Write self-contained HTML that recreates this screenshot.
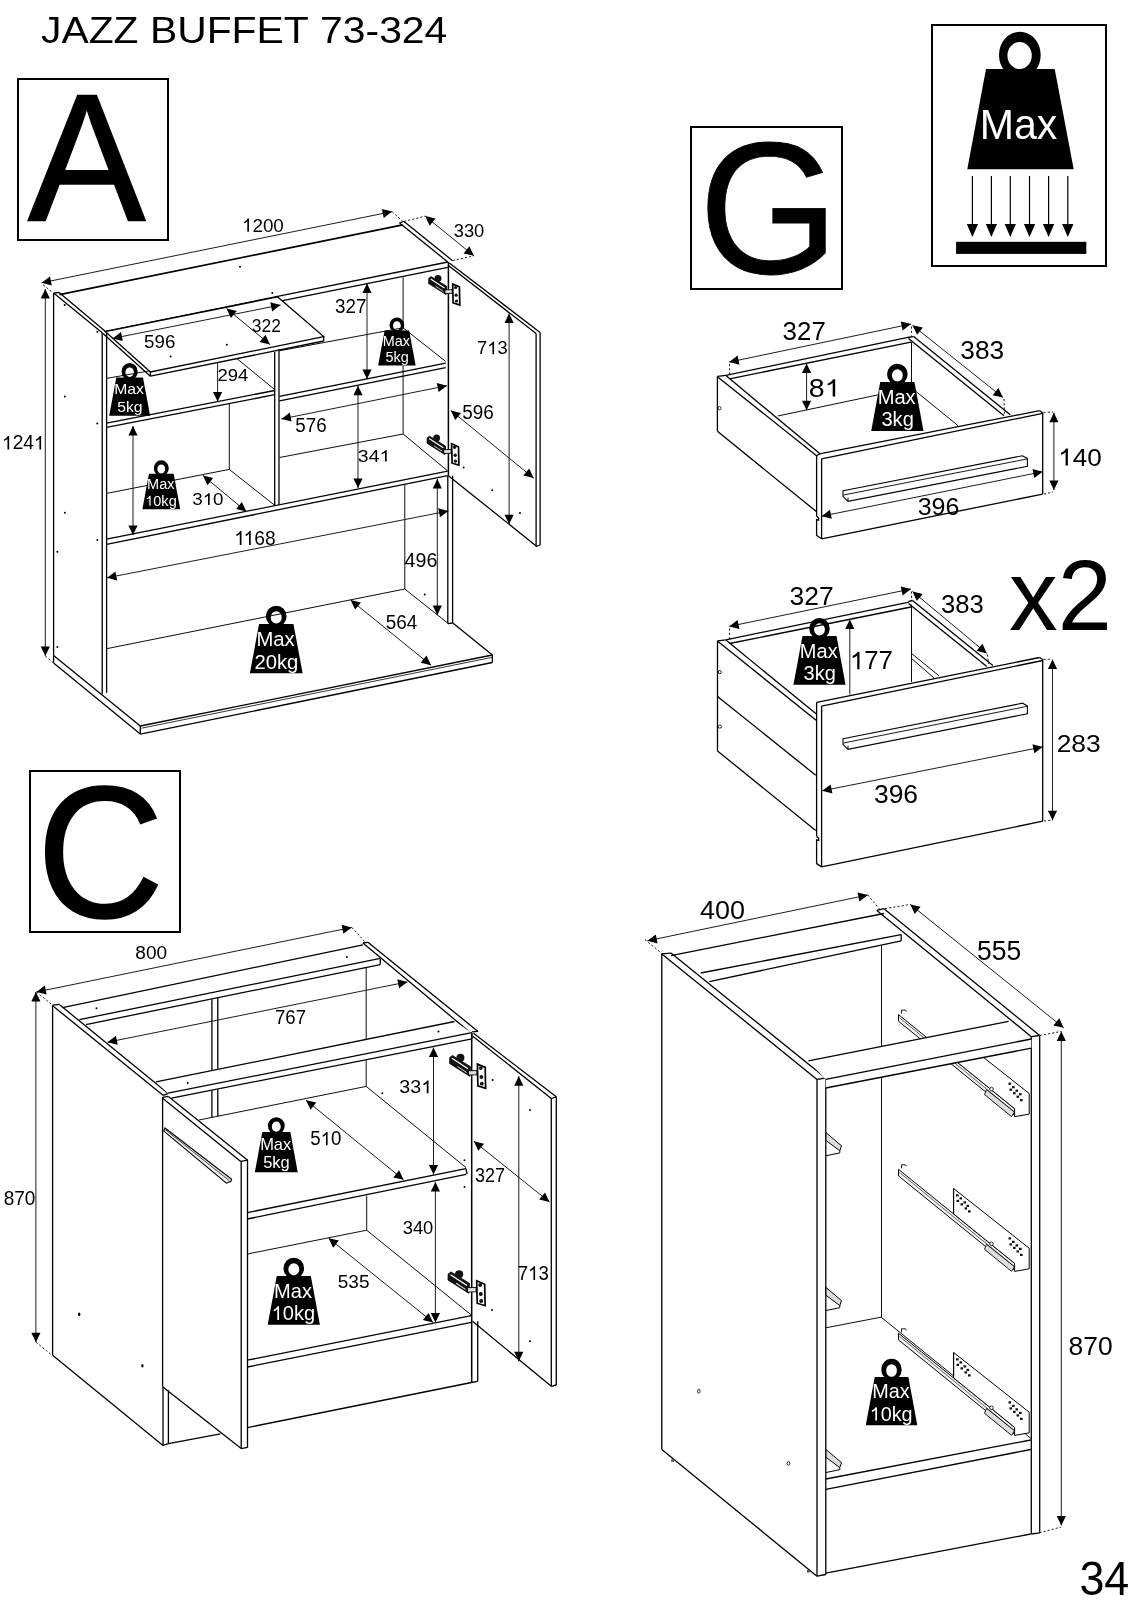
<!DOCTYPE html>
<html><head><meta charset="utf-8"><style>
html,body{margin:0;padding:0;background:#fff;}
svg{display:block;will-change:transform;}
text{font-family:"Liberation Sans",sans-serif;font-kerning:none;}
</style></head><body>
<svg width="1131" height="1600" viewBox="0 0 1131 1600">
<rect width="1131" height="1600" fill="#fff"/>
<text transform="translate(40.96,43.00) scale(1.0890,1)" font-size="37.52" fill="#000">JAZZ BUFFET 73-324</text>
<rect x="18" y="79" width="150" height="161" fill="none" stroke="#000" stroke-width="2"/>
<rect x="691" y="127" width="151" height="162" fill="none" stroke="#000" stroke-width="2"/>
<rect x="30" y="771" width="150" height="161" fill="none" stroke="#000" stroke-width="2"/>
<rect x="932" y="25" width="174" height="241" fill="none" stroke="#000" stroke-width="2"/>
<text transform="translate(27.70,221.35) scale(0.9666,1)" font-size="182.85" fill="#000" stroke="#000" stroke-width="1.5" stroke-linejoin="miter">A</text>
<text transform="translate(698.85,273.20) scale(0.9623,1)" font-size="187.04" fill="#000" stroke="#000" stroke-width="0.8" stroke-linejoin="miter">G</text>
<text transform="translate(36.65,916.80) scale(0.9443,1)" font-size="186.61" fill="#000" stroke="#000" stroke-width="1.6" stroke-linejoin="miter">C</text>
<text transform="translate(1009.01,629.60) scale(0.9736,1)" font-size="99.97" fill="#000">x2</text>
<text transform="translate(1079.39,1595.00) scale(0.9383,1)" font-size="47.83" fill="#000">34</text>
<path d="M986,69.1 L1054.7,69.1 L1073.7,169.2 L967.3,169.2 Z" fill="#000"/>
<path d="M999.0,55 a20.85,23.2 0 1,0 41.7,0 a20.85,23.2 0 1,0 -41.7,0 Z M1007.4,55.5 a12.2,13.6 0 1,0 24.4,0 a12.2,13.6 0 1,0 -24.4,0 Z" fill="#000" fill-rule="evenodd"/>
<text transform="translate(979.63,138.50) scale(0.9627,1)" font-size="42.73" fill="#fff">Max</text>
<line x1="972.4" y1="175.9" x2="972.4" y2="226.0" stroke="#000" stroke-width="1.2" />
<polygon points="972.4,237.1 966.8,224.1 978.0,224.1" fill="#000"/>
<line x1="991.4" y1="175.9" x2="991.4" y2="226.0" stroke="#000" stroke-width="1.2" />
<polygon points="991.4,237.1 985.8,224.1 997.0,224.1" fill="#000"/>
<line x1="1010.3" y1="175.9" x2="1010.3" y2="226.0" stroke="#000" stroke-width="1.2" />
<polygon points="1010.3,237.1 1004.6,224.1 1015.9,224.1" fill="#000"/>
<line x1="1029.5" y1="175.9" x2="1029.5" y2="226.0" stroke="#000" stroke-width="1.2" />
<polygon points="1029.5,237.1 1023.9,224.1 1035.2,224.1" fill="#000"/>
<line x1="1048.6" y1="175.9" x2="1048.6" y2="226.0" stroke="#000" stroke-width="1.2" />
<polygon points="1048.6,237.1 1042.9,224.1 1054.2,224.1" fill="#000"/>
<line x1="1067.8" y1="175.9" x2="1067.8" y2="226.0" stroke="#000" stroke-width="1.2" />
<polygon points="1067.8,237.1 1062.1,224.1 1073.5,224.1" fill="#000"/>
<rect x="956.1" y="241.8" width="130.2" height="12.1" fill="#000"/>
<line x1="41.6" y1="282.8" x2="392.1" y2="211.6" stroke="#111" stroke-width="0.95" />
<polygon points="392.1,211.6 383.7,218.0 381.9,209.0" fill="#000"/>
<polygon points="41.6,282.8 50.0,276.4 51.8,285.4" fill="#000"/>
<g transform="translate(241.95,231.70) scale(0.9885,1)" fill="#000"><path transform="translate(0.00,0) scale(0.00930,-0.00930)" d="M763,0 L583,0 L583,1100 Q520,1040 420,985 Q320,930 223,900 L223,1070 Q360,1130 460,1215 Q560,1300 620,1409 L763,1409 Z"/><text x="10.59" font-size="19.05">200</text></g>
<line x1="43.2" y1="284.8" x2="52.3" y2="292.3" stroke="#222" stroke-width="1.0" stroke-dasharray="2.2,2"/>
<line x1="392.1" y1="211.6" x2="402.7" y2="221.4" stroke="#222" stroke-width="1.0" stroke-dasharray="2.2,2"/>
<line x1="425.2" y1="216.1" x2="473.9" y2="255.8" stroke="#111" stroke-width="0.95" />
<polygon points="473.9,255.8 463.6,253.4 469.4,246.2" fill="#000"/>
<polygon points="425.2,216.1 435.5,218.5 429.7,225.7" fill="#000"/>
<line x1="404.0" y1="221.4" x2="425.2" y2="216.1" stroke="#222" stroke-width="1.0" stroke-dasharray="2.2,2"/>
<line x1="452.6" y1="260.7" x2="473.9" y2="255.8" stroke="#222" stroke-width="1.0" stroke-dasharray="2.2,2"/>
<text transform="translate(453.70,237.30) scale(0.9633,1)" font-size="19.05" fill="#000">330</text>
<line x1="45.3" y1="289.1" x2="45.3" y2="656.1" stroke="#111" stroke-width="0.95" />
<polygon points="45.3,656.1 40.7,646.6 49.9,646.6" fill="#000"/>
<polygon points="45.3,289.1 49.9,298.6 40.7,298.6" fill="#000"/>
<g transform="translate(2.01,449.40) scale(0.9905,1)" fill="#000"><path transform="translate(0.00,0) scale(0.00944,-0.00944)" d="M763,0 L583,0 L583,1100 Q520,1040 420,985 Q320,930 223,900 L223,1070 Q360,1130 460,1215 Q560,1300 620,1409 L763,1409 Z"/><text x="10.75" font-size="19.33">24</text><path transform="translate(32.26,0) scale(0.00944,-0.00944)" d="M763,0 L583,0 L583,1100 Q520,1040 420,985 Q320,930 223,900 L223,1070 Q360,1130 460,1215 Q560,1300 620,1409 L763,1409 Z"/></g>
<line x1="45.3" y1="656.1" x2="53.6" y2="662.9" stroke="#222" stroke-width="1.0" stroke-dasharray="2.2,2"/>
<line x1="53.6" y1="293.1" x2="53.6" y2="655.5" stroke="#000" stroke-width="1.3" />
<line x1="53.6" y1="293.1" x2="102.5" y2="332.9" stroke="#000" stroke-width="1.3" />
<line x1="59.1" y1="292.6" x2="105.2" y2="331.3" stroke="#000" stroke-width="1.3" />
<line x1="53.6" y1="293.1" x2="59.1" y2="292.5" stroke="#000" stroke-width="1.3" />
<line x1="102.2" y1="333.0" x2="102.2" y2="694.2" stroke="#000" stroke-width="1.3" />
<line x1="106.6" y1="331.3" x2="106.6" y2="692.8" stroke="#000" stroke-width="1.3" />
<line x1="53.6" y1="655.5" x2="140.3" y2="726.0" stroke="#000" stroke-width="1.3" />
<line x1="53.6" y1="662.9" x2="140.3" y2="734.1" stroke="#000" stroke-width="1.3" />
<line x1="53.6" y1="655.5" x2="53.6" y2="662.9" stroke="#000" stroke-width="1.3" />
<line x1="140.3" y1="726.0" x2="140.3" y2="734.1" stroke="#000" stroke-width="1.3" />
<line x1="140.3" y1="726.0" x2="492.4" y2="655.0" stroke="#000" stroke-width="1.3" />
<line x1="141.5" y1="728.2" x2="492.4" y2="657.3" stroke="#000" stroke-width="0.8" />
<line x1="140.3" y1="734.1" x2="492.4" y2="662.5" stroke="#000" stroke-width="1.3" />
<line x1="492.4" y1="655.0" x2="492.4" y2="662.5" stroke="#000" stroke-width="1.3" />
<line x1="492.4" y1="655.0" x2="452.8" y2="623.0" stroke="#000" stroke-width="1.3" />
<line x1="59.5" y1="294.7" x2="402.7" y2="224.9" stroke="#000" stroke-width="1.7" />
<line x1="105.2" y1="331.3" x2="447.8" y2="262.0" stroke="#000" stroke-width="1.3" />
<line x1="277.7" y1="301.7" x2="447.8" y2="267.3" stroke="#000" stroke-width="1.3" />
<line x1="404.0" y1="221.4" x2="452.6" y2="260.7" stroke="#000" stroke-width="1.3" />
<line x1="399.6" y1="223.1" x2="447.8" y2="262.0" stroke="#000" stroke-width="1.3" />
<line x1="399.6" y1="222.8" x2="404.0" y2="221.4" stroke="#000" stroke-width="1.3" />
<line x1="452.6" y1="475.7" x2="452.6" y2="623.0" stroke="#000" stroke-width="1.3" />
<line x1="447.8" y1="475.7" x2="447.8" y2="623.6" stroke="#000" stroke-width="1.3" />
<line x1="447.8" y1="623.6" x2="452.6" y2="623.0" stroke="#000" stroke-width="1.3" />
<line x1="403.1" y1="276.5" x2="403.1" y2="328.0" stroke="#000" stroke-width="0.95" />
<line x1="403.1" y1="366.0" x2="403.1" y2="434.0" stroke="#000" stroke-width="0.95" />
<line x1="404.8" y1="485.0" x2="404.8" y2="589.0" stroke="#000" stroke-width="0.95" />
<line x1="279.5" y1="350.8" x2="403.0" y2="327.8" stroke="#000" stroke-width="0.95" />
<line x1="403.0" y1="327.8" x2="445.7" y2="361.4" stroke="#000" stroke-width="0.95" />
<line x1="279.5" y1="396.4" x2="445.7" y2="363.2" stroke="#000" stroke-width="1.3" />
<line x1="279.5" y1="400.8" x2="445.7" y2="367.6" stroke="#000" stroke-width="1.3" />
<line x1="279.5" y1="457.5" x2="403.1" y2="434.0" stroke="#000" stroke-width="0.95" />
<line x1="403.1" y1="434.0" x2="447.6" y2="470.9" stroke="#000" stroke-width="0.95" />
<line x1="106.6" y1="539.2" x2="447.6" y2="471.2" stroke="#000" stroke-width="1.3" />
<line x1="106.6" y1="544.3" x2="447.6" y2="475.7" stroke="#000" stroke-width="1.3" />
<line x1="274.7" y1="352.0" x2="274.7" y2="506.0" stroke="#000" stroke-width="1.3" />
<line x1="279.0" y1="349.5" x2="279.0" y2="505.0" stroke="#000" stroke-width="1.3" />
<line x1="106.6" y1="423.2" x2="274.7" y2="390.5" stroke="#000" stroke-width="1.3" />
<line x1="106.6" y1="427.4" x2="274.7" y2="394.7" stroke="#000" stroke-width="1.3" />
<line x1="236.9" y1="358.6" x2="274.7" y2="389.6" stroke="#000" stroke-width="0.95" />
<line x1="106.6" y1="378.4" x2="150.4" y2="370.7" stroke="#000" stroke-width="0.95" />
<line x1="229.3" y1="403.5" x2="229.3" y2="469.4" stroke="#000" stroke-width="0.95" />
<line x1="106.6" y1="493.4" x2="229.3" y2="469.4" stroke="#000" stroke-width="0.95" />
<line x1="229.3" y1="469.4" x2="274.7" y2="505.3" stroke="#000" stroke-width="0.95" />
<line x1="106.6" y1="648.7" x2="404.8" y2="589.0" stroke="#000" stroke-width="0.95" />
<line x1="404.8" y1="589.0" x2="448.4" y2="623.6" stroke="#000" stroke-width="0.95" />
<polygon points="105.2,331.6 150.4,372.0 323.7,336.6 277.7,296.9" fill="#fff" stroke="#000" stroke-width="1.3" stroke-linejoin="miter" />
<line x1="103.0" y1="333.5" x2="150.4" y2="376.2" stroke="#000" stroke-width="1.3" />
<line x1="150.4" y1="372.0" x2="150.4" y2="376.2" stroke="#000" stroke-width="1.3" />
<line x1="150.4" y1="376.2" x2="323.7" y2="341.0" stroke="#000" stroke-width="1.3" />
<line x1="323.7" y1="336.6" x2="323.7" y2="341.0" stroke="#000" stroke-width="1.3" />
<line x1="448.4" y1="262.0" x2="448.4" y2="475.7" stroke="#000" stroke-width="1.5" />
<line x1="449.3" y1="262.9" x2="540.1" y2="332.4" stroke="#000" stroke-width="1.3" />
<line x1="448.7" y1="265.7" x2="536.1" y2="333.6" stroke="#000" stroke-width="1.3" />
<line x1="536.1" y1="333.6" x2="536.1" y2="546.5" stroke="#000" stroke-width="1.3" />
<line x1="540.1" y1="332.4" x2="540.1" y2="545.0" stroke="#000" stroke-width="1.3" />
<line x1="448.4" y1="475.7" x2="536.8" y2="546.5" stroke="#000" stroke-width="1.3" />
<line x1="536.1" y1="546.5" x2="540.1" y2="545.0" stroke="#000" stroke-width="1.3" />
<line x1="112.6" y1="338.4" x2="280.5" y2="305.0" stroke="#111" stroke-width="0.95" />
<polygon points="280.5,305.0 272.1,311.4 270.3,302.3" fill="#000"/>
<polygon points="112.6,338.4 121.0,332.0 122.8,341.1" fill="#000"/>
<text transform="translate(144.05,348.00) scale(1.0641,1)" font-size="17.62" fill="#000">596</text>
<line x1="226.5" y1="308.5" x2="269.9" y2="344.4" stroke="#111" stroke-width="0.95" />
<polygon points="269.9,344.4 259.6,341.9 265.5,334.8" fill="#000"/>
<polygon points="226.5,308.5 236.8,311.0 230.9,318.1" fill="#000"/>
<text transform="translate(251.84,332.00) scale(0.9800,1)" font-size="17.76" fill="#000">322</text>
<line x1="217.6" y1="362.8" x2="217.6" y2="401.4" stroke="#111" stroke-width="0.95" />
<polygon points="217.6,401.4 213.0,391.9 222.2,391.9" fill="#000"/>
<text transform="translate(217.47,381.20) scale(1.1043,1)" font-size="16.76" fill="#000">294</text>
<line x1="367.0" y1="283.6" x2="367.0" y2="379.1" stroke="#111" stroke-width="0.95" />
<polygon points="367.0,379.1 362.4,369.6 371.6,369.6" fill="#000"/>
<polygon points="367.0,283.6 371.6,293.1 362.4,293.1" fill="#000"/>
<text transform="translate(334.98,312.70) scale(0.9580,1)" font-size="19.62" fill="#000">327</text>
<line x1="358.0" y1="385.7" x2="358.0" y2="488.0" stroke="#111" stroke-width="0.95" />
<polygon points="358.0,488.0 353.4,478.5 362.6,478.5" fill="#000"/>
<polygon points="358.0,385.7 362.6,395.2 353.4,395.2" fill="#000"/>
<g transform="translate(357.86,461.60) scale(1.1691,1)" fill="#000"><text x="0.00" font-size="16.61">34</text><path transform="translate(18.48,0) scale(0.00811,-0.00811)" d="M763,0 L583,0 L583,1100 Q520,1040 420,985 Q320,930 223,900 L223,1070 Q360,1130 460,1215 Q560,1300 620,1409 L763,1409 Z"/></g>
<line x1="281.4" y1="419.0" x2="447.0" y2="385.7" stroke="#111" stroke-width="0.95" />
<polygon points="447.0,385.7 438.6,392.1 436.8,383.1" fill="#000"/>
<polygon points="281.4,419.0 289.8,412.6 291.6,421.6" fill="#000"/>
<text transform="translate(295.25,431.50) scale(0.9728,1)" font-size="19.33" fill="#000">576</text>
<line x1="509.1" y1="313.4" x2="509.1" y2="524.2" stroke="#111" stroke-width="0.95" />
<polygon points="509.1,524.2 504.5,514.7 513.7,514.7" fill="#000"/>
<polygon points="509.1,313.4 513.7,322.9 504.5,322.9" fill="#000"/>
<g transform="translate(477.06,354.30) scale(1.0065,1)" fill="#000"><text x="0.00" font-size="18.19">7</text><path transform="translate(10.12,0) scale(0.00888,-0.00888)" d="M763,0 L583,0 L583,1100 Q520,1040 420,985 Q320,930 223,900 L223,1070 Q360,1130 460,1215 Q560,1300 620,1409 L763,1409 Z"/><text x="20.23" font-size="18.19">3</text></g>
<line x1="450.8" y1="410.4" x2="533.6" y2="478.1" stroke="#111" stroke-width="0.95" />
<polygon points="533.6,478.1 523.3,475.6 529.2,468.5" fill="#000"/>
<polygon points="450.8,410.4 461.1,412.9 455.2,420.0" fill="#000"/>
<text transform="translate(462.24,419.00) scale(0.9793,1)" font-size="19.33" fill="#000">596</text>
<line x1="133.0" y1="426.0" x2="133.0" y2="535.0" stroke="#111" stroke-width="0.95" />
<polygon points="133.0,535.0 128.4,525.5 137.6,525.5" fill="#000"/>
<polygon points="133.0,426.0 137.6,435.5 128.4,435.5" fill="#000"/>
<line x1="203.0" y1="475.6" x2="246.3" y2="511.5" stroke="#111" stroke-width="0.95" />
<polygon points="246.3,511.5 236.1,509.0 241.9,501.9" fill="#000"/>
<polygon points="203.0,475.6 213.2,478.1 207.4,485.2" fill="#000"/>
<g transform="translate(192.29,505.00) scale(1.0896,1)" fill="#000"><text x="0.00" font-size="17.19">3</text><path transform="translate(9.56,0) scale(0.00839,-0.00839)" d="M763,0 L583,0 L583,1100 Q520,1040 420,985 Q320,930 223,900 L223,1070 Q360,1130 460,1215 Q560,1300 620,1409 L763,1409 Z"/><text x="19.12" font-size="17.19">0</text></g>
<line x1="107.0" y1="577.8" x2="448.4" y2="511.0" stroke="#111" stroke-width="0.95" />
<polygon points="448.4,511.0 440.0,517.3 438.2,508.3" fill="#000"/>
<polygon points="107.0,577.8 115.4,571.5 117.2,580.5" fill="#000"/>
<g transform="translate(234.31,545.00) scale(0.9450,1)" fill="#000"><path transform="translate(0.00,0) scale(0.00993,-0.00993)" d="M763,0 L583,0 L583,1100 Q520,1040 420,985 Q320,930 223,900 L223,1070 Q360,1130 460,1215 Q560,1300 620,1409 L763,1409 Z"/><path transform="translate(9.80,0) scale(0.00993,-0.00993)" d="M763,0 L583,0 L583,1100 Q520,1040 420,985 Q320,930 223,900 L223,1070 Q360,1130 460,1215 Q560,1300 620,1409 L763,1409 Z"/><text x="21.11" font-size="20.34">68</text></g>
<line x1="437.3" y1="478.9" x2="437.3" y2="615.0" stroke="#111" stroke-width="0.95" />
<polygon points="437.3,615.0 432.7,605.5 441.9,605.5" fill="#000"/>
<polygon points="437.3,478.9 441.9,488.4 432.7,488.4" fill="#000"/>
<text transform="translate(404.55,566.70) scale(1.0024,1)" font-size="19.62" fill="#000">496</text>
<line x1="350.6" y1="600.0" x2="431.0" y2="665.2" stroke="#111" stroke-width="0.95" />
<polygon points="431.0,665.2 420.7,662.8 426.5,655.6" fill="#000"/>
<polygon points="350.6,600.0 360.9,602.4 355.1,609.6" fill="#000"/>
<text transform="translate(385.74,628.50) scale(0.9768,1)" font-size="19.33" fill="#000">564</text>
<path d="M116.30,377.40 L143.00,377.40 L150.10,415.64 L109.20,415.64 Z" fill="#000"/>
<path d="M121.59,371.39 a8.06,8.22 0 1,0 16.11,0 a8.06,8.22 0 1,0 -16.11,0 Z M125.40,372.21 a4.25,4.81 0 1,0 8.51,0 a4.25,4.81 0 1,0 -8.51,0 Z" fill="#000" fill-rule="evenodd"/>
<text transform="translate(114.23,394.37) scale(1.0200,1)" font-size="15.42" fill="#fff">Max</text>
<text transform="translate(117.16,411.88) scale(1.0200,1)" font-size="15.42" fill="#fff">5kg</text>
<path d="M384.66,330.50 L409.14,330.50 L415.65,365.56 L378.15,365.56 Z" fill="#000"/>
<path d="M389.51,324.99 a7.39,7.54 0 1,0 14.78,0 a7.39,7.54 0 1,0 -14.78,0 Z M393.00,325.74 a3.90,4.41 0 1,0 7.80,0 a3.90,4.41 0 1,0 -7.80,0 Z" fill="#000" fill-rule="evenodd"/>
<text transform="translate(382.76,346.06) scale(1.0200,1)" font-size="14.14" fill="#fff">Max</text>
<text transform="translate(385.45,362.11) scale(1.0200,1)" font-size="14.14" fill="#fff">5kg</text>
<path d="M148.96,473.80 L173.64,473.80 L180.20,509.14 L142.40,509.14 Z" fill="#000"/>
<path d="M153.85,468.24 a7.45,7.60 0 1,0 14.89,0 a7.45,7.60 0 1,0 -14.89,0 Z M157.37,469.00 a3.93,4.44 0 1,0 7.86,0 a3.93,4.44 0 1,0 -7.86,0 Z" fill="#000" fill-rule="evenodd"/>
<text transform="translate(147.05,489.49) scale(1.0200,1)" font-size="14.25" fill="#fff">Max</text>
<g transform="translate(145.22,505.67) scale(1.0200,1)" fill="#fff"><path transform="translate(0.00,0) scale(0.00696,-0.00696)" d="M763,0 L583,0 L583,1100 Q520,1040 420,985 Q320,930 223,900 L223,1070 Q360,1130 460,1215 Q560,1300 620,1409 L763,1409 Z"/><text x="7.93" font-size="14.25">0kg</text></g>
<path d="M259.04,624.10 L293.46,624.10 L302.60,673.37 L249.90,673.37 Z" fill="#000"/>
<path d="M265.87,616.35 a10.38,10.59 0 1,0 20.76,0 a10.38,10.59 0 1,0 -20.76,0 Z M270.77,617.41 a5.48,6.19 0 1,0 10.96,0 a5.48,6.19 0 1,0 -10.96,0 Z" fill="#000" fill-rule="evenodd"/>
<text transform="translate(256.39,645.97) scale(1.0200,1)" font-size="19.87" fill="#fff">Max</text>
<text transform="translate(254.42,668.53) scale(1.0200,1)" font-size="19.87" fill="#fff">20kg</text>
<polygon points="428.8,278.3 431.1,276.6 446.7,286.3 446.1,294.6 428.6,283.5" fill="#111" stroke="#000" stroke-width="0.8" stroke-linejoin="miter" />
<ellipse cx="438.0" cy="278.5" rx="3.5" ry="3.4" fill="#111"/>
<line x1="430.7" y1="279.0" x2="444.5" y2="288.0" stroke="#fff" stroke-width="1.126183844011141" />
<line x1="435.5" y1="286.1" x2="443.3" y2="291.3" stroke="#ddd" stroke-width="0.8662952646239546" />
<polygon points="444.9,289.9 452.2,289.6 452.2,293.3 444.9,293.6" fill="#ddd" stroke="#000" stroke-width="0.9" stroke-linejoin="miter" />
<polygon points="452.7,284.0 459.4,286.9 459.8,305.0 453.1,302.9" fill="#fff" stroke="#000" stroke-width="1.7" stroke-linejoin="miter" />
<circle cx="455.6" cy="287.5" r="1.6" fill="#111"/>
<circle cx="456.1" cy="295.2" r="1.6" fill="#111"/>
<circle cx="456.5" cy="301.0" r="1.6" fill="#111"/>
<polygon points="427.2,437.9 429.6,436.2 445.5,446.1 444.9,454.6 427.0,443.2" fill="#111" stroke="#000" stroke-width="0.8" stroke-linejoin="miter" />
<ellipse cx="436.6" cy="438.1" rx="3.5" ry="3.5" fill="#111"/>
<line x1="429.1" y1="438.6" x2="443.3" y2="447.8" stroke="#fff" stroke-width="1.1515320334261845" />
<line x1="434.1" y1="445.9" x2="442.1" y2="451.2" stroke="#ddd" stroke-width="0.8857938718662957" />
<polygon points="443.7,449.7 451.2,449.4 451.2,453.3 443.7,453.5" fill="#ddd" stroke="#000" stroke-width="0.9" stroke-linejoin="miter" />
<polygon points="451.6,443.8 458.5,446.7 458.9,465.2 452.1,463.1" fill="#fff" stroke="#000" stroke-width="1.7" stroke-linejoin="miter" />
<circle cx="454.6" cy="447.3" r="1.7" fill="#111"/>
<circle cx="455.2" cy="455.2" r="1.7" fill="#111"/>
<circle cx="455.5" cy="461.1" r="1.7" fill="#111"/>
<circle cx="64.7" cy="305.0" r="1.0" fill="#000"/>
<circle cx="97.3" cy="331.7" r="1.0" fill="#000"/>
<circle cx="64.9" cy="396.4" r="1.0" fill="#000"/>
<circle cx="97.3" cy="423.6" r="1.0" fill="#000"/>
<circle cx="64.9" cy="512.7" r="1.0" fill="#000"/>
<circle cx="97.3" cy="540.0" r="1.0" fill="#000"/>
<circle cx="57.4" cy="551.8" r="1.0" fill="#000"/>
<circle cx="57.4" cy="647.0" r="1.0" fill="#000"/>
<circle cx="170.6" cy="356.5" r="1.0" fill="#000"/>
<circle cx="226.8" cy="344.8" r="1.0" fill="#000"/>
<circle cx="240.0" cy="266.8" r="1.0" fill="#000"/>
<circle cx="272.3" cy="293.0" r="1.0" fill="#000"/>
<circle cx="463.6" cy="467.4" r="1.0" fill="#000"/>
<circle cx="492.2" cy="490.3" r="1.0" fill="#000"/>
<circle cx="520.0" cy="513.1" r="1.0" fill="#000"/>
<circle cx="424.8" cy="594.4" r="1.0" fill="#000"/>
<line x1="729.2" y1="362.1" x2="911.0" y2="324.0" stroke="#111" stroke-width="0.95" />
<polygon points="911.0,324.0 902.6,330.5 900.8,321.4" fill="#000"/>
<polygon points="729.2,362.1 737.6,355.6 739.4,364.7" fill="#000"/>
<text transform="translate(782.61,340.20) scale(1.0269,1)" font-size="25.21" fill="#000">327</text>
<line x1="729.6" y1="364.0" x2="729.6" y2="374.0" stroke="#222" stroke-width="1.0" stroke-dasharray="2.2,2"/>
<line x1="911.5" y1="326.5" x2="911.5" y2="335.5" stroke="#222" stroke-width="1.0" stroke-dasharray="2.2,2"/>
<line x1="912.5" y1="325.3" x2="1003.0" y2="397.5" stroke="#111" stroke-width="0.95" />
<polygon points="1003.0,397.5 992.7,395.2 998.4,388.0" fill="#000"/>
<polygon points="912.5,325.3 922.8,327.6 917.1,334.8" fill="#000"/>
<text transform="translate(960.30,358.80) scale(1.0029,1)" font-size="26.21" fill="#000">383</text>
<line x1="1004.0" y1="399.0" x2="1004.5" y2="414.5" stroke="#222" stroke-width="1.0" stroke-dasharray="2.2,2"/>
<line x1="806.6" y1="363.5" x2="806.6" y2="410.2" stroke="#111" stroke-width="0.95" />
<polygon points="806.6,410.2 802.0,400.7 811.2,400.7" fill="#000"/>
<polygon points="806.6,363.5 811.2,373.0 802.0,373.0" fill="#000"/>
<g transform="translate(808.66,396.60) scale(1.1338,1)" fill="#000"><text x="0.00" font-size="25.21">8</text><path transform="translate(14.02,0) scale(0.01231,-0.01231)" d="M763,0 L583,0 L583,1100 Q520,1040 420,985 Q320,930 223,900 L223,1070 Q360,1130 460,1215 Q560,1300 620,1409 L763,1409 Z"/></g>
<line x1="1053.9" y1="412.7" x2="1053.9" y2="490.0" stroke="#111" stroke-width="0.95" />
<polygon points="1053.9,490.0 1049.3,480.5 1058.5,480.5" fill="#000"/>
<polygon points="1053.9,412.7 1058.5,422.2 1049.3,422.2" fill="#000"/>
<g transform="translate(1058.16,465.60) scale(1.0538,1)" fill="#000"><path transform="translate(0.00,0) scale(0.01210,-0.01210)" d="M763,0 L583,0 L583,1100 Q520,1040 420,985 Q320,930 223,900 L223,1070 Q360,1130 460,1215 Q560,1300 620,1409 L763,1409 Z"/><text x="13.78" font-size="24.78">40</text></g>
<line x1="1043.5" y1="412.5" x2="1053.0" y2="412.0" stroke="#222" stroke-width="1.0" stroke-dasharray="2.2,2"/>
<line x1="1044.0" y1="494.0" x2="1053.0" y2="492.0" stroke="#222" stroke-width="1.0" stroke-dasharray="2.2,2"/>
<line x1="821.6" y1="516.2" x2="1042.7" y2="471.7" stroke="#111" stroke-width="0.95" />
<polygon points="1042.7,471.7 1034.3,478.1 1032.5,469.1" fill="#000"/>
<polygon points="821.6,516.2 830.0,509.8 831.8,518.8" fill="#000"/>
<text transform="translate(917.65,515.40) scale(1.0100,1)" font-size="24.78" fill="#000">396</text>
<line x1="717.4" y1="376.4" x2="717.4" y2="431.3" stroke="#000" stroke-width="1.3" />
<line x1="717.4" y1="376.7" x2="817.2" y2="456.2" stroke="#000" stroke-width="1.3" />
<line x1="725.9" y1="375.6" x2="820.3" y2="454.1" stroke="#000" stroke-width="1.3" />
<line x1="717.4" y1="376.4" x2="725.9" y2="375.3" stroke="#000" stroke-width="1.3" />
<line x1="717.4" y1="431.3" x2="816.4" y2="511.6" stroke="#000" stroke-width="1.3" />
<line x1="725.9" y1="375.3" x2="909.1" y2="337.2" stroke="#000" stroke-width="1.3" />
<line x1="729.6" y1="378.8" x2="911.0" y2="342.1" stroke="#000" stroke-width="1.3" />
<line x1="913.6" y1="336.4" x2="1010.2" y2="414.7" stroke="#000" stroke-width="1.3" />
<line x1="908.5" y1="338.5" x2="1004.0" y2="415.8" stroke="#000" stroke-width="1.3" />
<line x1="908.5" y1="337.5" x2="913.6" y2="336.4" stroke="#000" stroke-width="1.3" />
<line x1="911.5" y1="342.1" x2="911.5" y2="387.8" stroke="#000" stroke-width="0.95" />
<line x1="777.8" y1="416.0" x2="911.5" y2="387.8" stroke="#000" stroke-width="0.95" />
<line x1="911.5" y1="387.8" x2="958.3" y2="425.9" stroke="#000" stroke-width="0.95" />
<line x1="816.6" y1="455.5" x2="816.6" y2="516.3" stroke="#000" stroke-width="1.3" />
<polyline points="816.6,516.3 818.7,518.0 818.7,520.2 816.6,519.6 816.6,535.5 821.6,538.8" fill="none" stroke="#000" stroke-width="1.3" stroke-linejoin="miter" />
<line x1="821.6" y1="458.8" x2="821.6" y2="538.8" stroke="#000" stroke-width="1.3" />
<line x1="820.6" y1="453.6" x2="1039.6" y2="410.7" stroke="#000" stroke-width="1.3" />
<line x1="821.6" y1="458.8" x2="1042.7" y2="413.3" stroke="#000" stroke-width="1.3" />
<line x1="816.6" y1="455.5" x2="820.6" y2="453.6" stroke="#000" stroke-width="1.3" />
<line x1="1039.6" y1="410.7" x2="1042.7" y2="412.7" stroke="#000" stroke-width="1.3" />
<line x1="1042.7" y1="412.7" x2="1042.7" y2="494.1" stroke="#000" stroke-width="1.3" />
<line x1="821.6" y1="538.8" x2="1042.7" y2="494.1" stroke="#000" stroke-width="1.3" />
<polygon points="843.0,490.8 1022.4,455.8 1027.4,458.4 1027.4,466.3 848.0,501.3 843.0,496.3" fill="#fff" stroke="#000" stroke-width="1.1" stroke-linejoin="miter" />
<line x1="843.5" y1="495.0" x2="1026.9" y2="459.0" stroke="#000" stroke-width="0.9" />
<line x1="848.0" y1="501.3" x2="848.0" y2="497.6" stroke="#000" stroke-width="0.9" />
<circle cx="719.5" cy="408.2" r="1.6" fill="none" stroke="#000" stroke-width="0.8"/>
<path d="M880.27,382.00 L914.43,382.00 L923.50,430.90 L871.20,430.90 Z" fill="#000"/>
<path d="M887.05,374.31 a10.30,10.51 0 1,0 20.61,0 a10.30,10.51 0 1,0 -20.61,0 Z M891.91,375.36 a5.44,6.15 0 1,0 10.88,0 a5.44,6.15 0 1,0 -10.88,0 Z" fill="#000" fill-rule="evenodd"/>
<text transform="translate(877.64,403.70) scale(1.0200,1)" font-size="19.72" fill="#fff">Max</text>
<text transform="translate(881.40,426.09) scale(1.0200,1)" font-size="19.72" fill="#fff">3kg</text>
<line x1="729.2" y1="626.4" x2="911.0" y2="589.0" stroke="#111" stroke-width="0.95" />
<polygon points="911.0,589.0 902.6,595.4 900.8,586.4" fill="#000"/>
<polygon points="729.2,626.4 737.6,620.0 739.4,629.0" fill="#000"/>
<text transform="translate(789.39,605.00) scale(1.0009,1)" font-size="26.50" fill="#000">327</text>
<line x1="729.6" y1="628.5" x2="729.6" y2="639.5" stroke="#222" stroke-width="1.0" stroke-dasharray="2.2,2"/>
<line x1="911.5" y1="591.5" x2="911.5" y2="600.0" stroke="#222" stroke-width="1.0" stroke-dasharray="2.2,2"/>
<line x1="912.5" y1="591.4" x2="986.8" y2="653.4" stroke="#111" stroke-width="0.95" />
<polygon points="986.8,653.4 976.6,650.8 982.5,643.8" fill="#000"/>
<polygon points="912.5,591.4 922.7,594.0 916.8,601.0" fill="#000"/>
<text transform="translate(941.02,612.70) scale(0.9789,1)" font-size="26.21" fill="#000">383</text>
<line x1="987.5" y1="654.5" x2="988.5" y2="664.0" stroke="#222" stroke-width="1.0" stroke-dasharray="2.2,2"/>
<line x1="849.8" y1="628.0" x2="849.8" y2="694.5" stroke="#111" stroke-width="0.95" />
<polygon points="849.8,619.6 854.4,629.1 845.2,629.1" fill="#000"/>
<g transform="translate(849.89,669.20) scale(1.0133,1)" fill="#000"><path transform="translate(0.00,0) scale(0.01242,-0.01242)" d="M763,0 L583,0 L583,1100 Q520,1040 420,985 Q320,930 223,900 L223,1070 Q360,1130 460,1215 Q560,1300 620,1409 L763,1409 Z"/><text x="14.15" font-size="25.44">77</text></g>
<line x1="1052.5" y1="659.5" x2="1052.5" y2="820.2" stroke="#111" stroke-width="0.95" />
<polygon points="1052.5,820.2 1047.9,810.7 1057.1,810.7" fill="#000"/>
<polygon points="1052.5,659.5 1057.1,669.0 1047.9,669.0" fill="#000"/>
<text transform="translate(1056.67,752.00) scale(1.0666,1)" font-size="24.78" fill="#000">283</text>
<line x1="1043.5" y1="659.5" x2="1052.0" y2="659.0" stroke="#222" stroke-width="1.0" stroke-dasharray="2.2,2"/>
<line x1="1044.0" y1="821.0" x2="1053.0" y2="820.0" stroke="#222" stroke-width="1.0" stroke-dasharray="2.2,2"/>
<line x1="822.2" y1="790.8" x2="1042.7" y2="746.9" stroke="#111" stroke-width="0.95" />
<polygon points="1042.7,746.9 1034.3,753.3 1032.5,744.2" fill="#000"/>
<polygon points="822.2,790.8 830.6,784.4 832.4,793.5" fill="#000"/>
<text transform="translate(873.99,803.40) scale(1.0023,1)" font-size="26.35" fill="#000">396</text>
<line x1="717.5" y1="641.0" x2="717.5" y2="750.9" stroke="#000" stroke-width="1.3" />
<line x1="717.4" y1="641.1" x2="816.1" y2="720.2" stroke="#000" stroke-width="1.3" />
<line x1="725.9" y1="640.1" x2="816.1" y2="713.8" stroke="#000" stroke-width="1.3" />
<line x1="717.4" y1="640.8" x2="725.9" y2="639.8" stroke="#000" stroke-width="1.3" />
<line x1="717.5" y1="696.4" x2="815.7" y2="775.2" stroke="#000" stroke-width="1.3" />
<line x1="717.5" y1="750.9" x2="815.7" y2="830.6" stroke="#000" stroke-width="1.3" />
<line x1="725.9" y1="639.8" x2="909.1" y2="602.1" stroke="#000" stroke-width="1.3" />
<line x1="729.6" y1="643.5" x2="911.0" y2="607.0" stroke="#000" stroke-width="1.3" />
<line x1="912.5" y1="600.5" x2="992.9" y2="665.6" stroke="#000" stroke-width="1.3" />
<line x1="908.5" y1="603.6" x2="986.8" y2="666.6" stroke="#000" stroke-width="1.3" />
<line x1="908.5" y1="601.5" x2="912.5" y2="600.5" stroke="#000" stroke-width="1.3" />
<line x1="911.5" y1="604.6" x2="911.5" y2="681.9" stroke="#000" stroke-width="0.95" />
<line x1="911.5" y1="653.4" x2="939.0" y2="675.8" stroke="#000" stroke-width="0.95" />
<line x1="911.5" y1="658.5" x2="933.9" y2="677.8" stroke="#000" stroke-width="0.95" />
<line x1="816.6" y1="702.3" x2="816.6" y2="836.5" stroke="#000" stroke-width="1.3" />
<polyline points="816.6,836.5 818.7,838.2 818.7,840.4 816.6,839.8 816.6,863.6 821.6,866.9" fill="none" stroke="#000" stroke-width="1.3" stroke-linejoin="miter" />
<line x1="821.6" y1="706.2" x2="821.6" y2="866.9" stroke="#000" stroke-width="1.3" />
<line x1="816.7" y1="702.3" x2="1039.6" y2="657.5" stroke="#000" stroke-width="1.3" />
<line x1="821.6" y1="706.2" x2="1042.7" y2="660.5" stroke="#000" stroke-width="1.3" />
<line x1="1039.6" y1="657.5" x2="1042.7" y2="659.5" stroke="#000" stroke-width="1.3" />
<line x1="1042.7" y1="659.5" x2="1042.7" y2="821.2" stroke="#000" stroke-width="1.3" />
<line x1="821.6" y1="866.9" x2="1042.7" y2="821.2" stroke="#000" stroke-width="1.3" />
<polygon points="843.0,738.8 1022.4,703.2 1027.4,705.8 1027.4,713.7 848.0,749.3 843.0,744.3" fill="#fff" stroke="#000" stroke-width="1.1" stroke-linejoin="miter" />
<line x1="843.5" y1="743.0" x2="1026.9" y2="706.4" stroke="#000" stroke-width="0.9" />
<line x1="848.0" y1="749.3" x2="848.0" y2="745.6" stroke="#000" stroke-width="0.9" />
<circle cx="719.8" cy="672.1" r="1.6" fill="none" stroke="#000" stroke-width="0.8"/>
<circle cx="719.8" cy="726.6" r="1.6" fill="none" stroke="#000" stroke-width="0.8"/>
<path d="M802.49,636.10 L836.51,636.10 L845.55,684.81 L793.45,684.81 Z" fill="#000"/>
<path d="M809.24,628.44 a10.26,10.47 0 1,0 20.53,0 a10.26,10.47 0 1,0 -20.53,0 Z M814.08,629.48 a5.42,6.12 0 1,0 10.84,0 a5.42,6.12 0 1,0 -10.84,0 Z" fill="#000" fill-rule="evenodd"/>
<text transform="translate(799.86,657.72) scale(1.0200,1)" font-size="19.64" fill="#fff">Max</text>
<text transform="translate(803.61,680.02) scale(1.0200,1)" font-size="19.64" fill="#fff">3kg</text>
<line x1="36.4" y1="992.0" x2="351.8" y2="927.4" stroke="#111" stroke-width="0.95" />
<polygon points="351.8,927.4 343.4,933.8 341.6,924.8" fill="#000"/>
<polygon points="36.4,992.0 44.8,985.6 46.6,994.6" fill="#000"/>
<text transform="translate(135.37,959.10) scale(1.0150,1)" font-size="18.76" fill="#000">800</text>
<line x1="36.4" y1="992.0" x2="52.6" y2="1005.2" stroke="#222" stroke-width="1.0" stroke-dasharray="2.2,2"/>
<line x1="351.8" y1="927.4" x2="365.4" y2="942.3" stroke="#222" stroke-width="1.0" stroke-dasharray="2.2,2"/>
<line x1="35.9" y1="992.0" x2="35.9" y2="1342.2" stroke="#111" stroke-width="0.95" />
<polygon points="35.9,1342.2 31.3,1332.7 40.5,1332.7" fill="#000"/>
<polygon points="35.9,992.0 40.5,1001.5 31.3,1001.5" fill="#000"/>
<text transform="translate(3.67,1204.80) scale(0.9635,1)" font-size="19.76" fill="#000">870</text>
<line x1="35.9" y1="1342.2" x2="52.2" y2="1355.3" stroke="#222" stroke-width="1.0" stroke-dasharray="2.2,2"/>
<line x1="52.6" y1="1005.2" x2="52.6" y2="1355.3" stroke="#000" stroke-width="1.3" />
<line x1="53.0" y1="1006.0" x2="163.0" y2="1095.3" stroke="#000" stroke-width="1.3" />
<line x1="59.7" y1="1004.8" x2="167.9" y2="1093.2" stroke="#000" stroke-width="1.3" />
<line x1="52.6" y1="1005.2" x2="59.7" y2="1004.3" stroke="#000" stroke-width="1.3" />
<line x1="163.0" y1="1095.3" x2="167.9" y2="1093.6" stroke="#000" stroke-width="1.3" />
<line x1="52.6" y1="1355.3" x2="163.0" y2="1445.4" stroke="#000" stroke-width="1.3" />
<line x1="163.0" y1="1386.7" x2="163.0" y2="1445.4" stroke="#000" stroke-width="1.3" />
<line x1="168.4" y1="1390.0" x2="168.4" y2="1443.7" stroke="#000" stroke-width="1.3" />
<line x1="163.0" y1="1445.4" x2="168.4" y2="1443.7" stroke="#000" stroke-width="1.3" />
<line x1="62.5" y1="1007.6" x2="362.9" y2="944.8" stroke="#000" stroke-width="1.3" />
<line x1="79.5" y1="1019.6" x2="380.3" y2="958.4" stroke="#000" stroke-width="1.3" />
<line x1="85.9" y1="1024.6" x2="380.3" y2="964.6" stroke="#000" stroke-width="1.3" />
<line x1="380.3" y1="958.4" x2="380.3" y2="964.6" stroke="#000" stroke-width="1.3" />
<line x1="211.9" y1="999.2" x2="211.9" y2="1069.9" stroke="#000" stroke-width="1.3" />
<line x1="217.8" y1="998.0" x2="217.8" y2="1068.8" stroke="#000" stroke-width="1.3" />
<line x1="211.9" y1="1090.5" x2="211.9" y2="1117.6" stroke="#000" stroke-width="1.3" />
<line x1="217.8" y1="1089.5" x2="217.8" y2="1116.4" stroke="#000" stroke-width="1.3" />
<line x1="367.9" y1="942.3" x2="478.0" y2="1031.4" stroke="#000" stroke-width="1.3" />
<line x1="362.9" y1="943.0" x2="471.9" y2="1033.9" stroke="#000" stroke-width="1.3" />
<line x1="362.9" y1="943.0" x2="367.9" y2="942.3" stroke="#000" stroke-width="1.3" />
<line x1="471.9" y1="1031.8" x2="478.0" y2="1031.4" stroke="#000" stroke-width="1.3" />
<line x1="366.2" y1="967.0" x2="366.2" y2="1039.4" stroke="#000" stroke-width="0.95" />
<line x1="366.2" y1="1059.7" x2="366.2" y2="1086.4" stroke="#000" stroke-width="0.95" />
<line x1="198.9" y1="1120.0" x2="366.2" y2="1086.4" stroke="#000" stroke-width="0.95" />
<line x1="366.2" y1="1086.4" x2="466.0" y2="1167.6" stroke="#000" stroke-width="0.95" />
<line x1="107.5" y1="1042.2" x2="407.5" y2="981.9" stroke="#111" stroke-width="0.95" />
<polygon points="407.5,981.9 399.1,988.3 397.3,979.3" fill="#000"/>
<polygon points="107.5,1042.2 115.9,1035.8 117.7,1044.8" fill="#000"/>
<text transform="translate(275.05,1024.00) scale(0.9502,1)" font-size="19.48" fill="#000">767</text>
<polygon points="155.9,1081.9 454.5,1021.5 471.9,1032.7 471.9,1038.8 171.5,1098.1 167.9,1093.2" fill="#fff" stroke="#000" stroke-width="0" stroke-linejoin="miter" stroke="none"/>
<line x1="155.9" y1="1081.9" x2="454.5" y2="1021.5" stroke="#000" stroke-width="1.3" />
<line x1="167.9" y1="1093.2" x2="471.9" y2="1032.7" stroke="#000" stroke-width="1.3" />
<line x1="171.5" y1="1098.1" x2="471.9" y2="1038.8" stroke="#000" stroke-width="1.3" />
<line x1="471.9" y1="1032.7" x2="471.9" y2="1038.8" stroke="#000" stroke-width="1.3" />
<line x1="247.4" y1="1212.6" x2="466.0" y2="1168.7" stroke="#000" stroke-width="1.3" />
<line x1="247.4" y1="1219.0" x2="466.0" y2="1174.4" stroke="#000" stroke-width="1.3" />
<line x1="466.0" y1="1168.7" x2="467.0" y2="1174.4" stroke="#000" stroke-width="1.3" />
<line x1="366.7" y1="1195.6" x2="366.7" y2="1230.2" stroke="#000" stroke-width="0.95" />
<line x1="247.4" y1="1254.0" x2="366.7" y2="1230.2" stroke="#000" stroke-width="0.95" />
<line x1="366.7" y1="1230.2" x2="471.5" y2="1315.2" stroke="#000" stroke-width="0.95" />
<line x1="247.4" y1="1360.2" x2="471.5" y2="1315.7" stroke="#000" stroke-width="1.3" />
<line x1="247.4" y1="1367.0" x2="471.5" y2="1322.4" stroke="#000" stroke-width="1.3" />
<line x1="168.4" y1="1443.7" x2="220.4" y2="1433.8" stroke="#000" stroke-width="1.3" />
<line x1="247.4" y1="1427.6" x2="471.5" y2="1382.5" stroke="#000" stroke-width="1.3" />
<line x1="471.7" y1="1033.9" x2="471.7" y2="1382.5" stroke="#000" stroke-width="1.5" />
<line x1="477.7" y1="1321.3" x2="477.7" y2="1381.3" stroke="#000" stroke-width="1.3" />
<line x1="471.7" y1="1382.5" x2="477.7" y2="1381.3" stroke="#000" stroke-width="1.3" />
<line x1="162.6" y1="1097.0" x2="162.6" y2="1386.7" stroke="#000" stroke-width="1.3" />
<line x1="162.6" y1="1098.2" x2="240.8" y2="1161.4" stroke="#000" stroke-width="1.3" />
<line x1="168.4" y1="1096.4" x2="247.7" y2="1160.2" stroke="#000" stroke-width="1.3" />
<line x1="162.6" y1="1097.4" x2="168.4" y2="1096.4" stroke="#000" stroke-width="1.3" />
<line x1="240.8" y1="1161.4" x2="247.7" y2="1160.2" stroke="#000" stroke-width="1.3" />
<line x1="241.2" y1="1161.4" x2="241.2" y2="1448.6" stroke="#000" stroke-width="1.3" />
<line x1="247.5" y1="1160.2" x2="247.5" y2="1447.4" stroke="#000" stroke-width="1.3" />
<line x1="162.6" y1="1386.7" x2="241.2" y2="1448.6" stroke="#000" stroke-width="1.3" />
<line x1="241.2" y1="1448.6" x2="247.5" y2="1447.4" stroke="#000" stroke-width="1.3" />
<polygon points="165.0,1128.0 231.6,1179.2 231.0,1181.3 226.4,1183.2 163.8,1131.2" fill="#eee" stroke="#000" stroke-width="1.1" stroke-linejoin="miter" />
<line x1="165.5" y1="1129.8" x2="229.5" y2="1180.8" stroke="#000" stroke-width="0.7" />
<line x1="473.5" y1="1033.3" x2="556.3" y2="1096.8" stroke="#000" stroke-width="1.3" />
<line x1="472.5" y1="1036.0" x2="551.3" y2="1098.5" stroke="#000" stroke-width="1.3" />
<line x1="551.3" y1="1098.5" x2="556.3" y2="1096.8" stroke="#000" stroke-width="1.3" />
<line x1="551.3" y1="1098.5" x2="551.3" y2="1386.3" stroke="#000" stroke-width="1.3" />
<line x1="556.3" y1="1096.8" x2="556.3" y2="1385.0" stroke="#000" stroke-width="1.3" />
<line x1="472.5" y1="1321.3" x2="551.3" y2="1386.3" stroke="#000" stroke-width="1.3" />
<line x1="551.3" y1="1386.3" x2="556.3" y2="1385.0" stroke="#000" stroke-width="1.3" />
<line x1="433.5" y1="1047.5" x2="433.5" y2="1174.4" stroke="#111" stroke-width="0.95" />
<polygon points="433.5,1174.4 428.9,1164.9 438.1,1164.9" fill="#000"/>
<polygon points="433.5,1047.5 438.1,1057.0 428.9,1057.0" fill="#000"/>
<g transform="translate(399.25,1093.30) scale(1.0663,1)" fill="#000"><text x="0.00" font-size="18.47">33</text><path transform="translate(20.55,0) scale(0.00902,-0.00902)" d="M763,0 L583,0 L583,1100 Q520,1040 420,985 Q320,930 223,900 L223,1070 Q360,1130 460,1215 Q560,1300 620,1409 L763,1409 Z"/></g>
<line x1="518.8" y1="1076.3" x2="518.8" y2="1361.3" stroke="#111" stroke-width="0.95" />
<polygon points="518.8,1361.3 514.2,1351.8 523.4,1351.8" fill="#000"/>
<polygon points="518.8,1076.3 523.4,1085.8 514.2,1085.8" fill="#000"/>
<g transform="translate(517.85,1280.00) scale(0.9257,1)" fill="#000"><text x="0.00" font-size="20.05">7</text><path transform="translate(11.15,0) scale(0.00979,-0.00979)" d="M763,0 L583,0 L583,1100 Q520,1040 420,985 Q320,930 223,900 L223,1070 Q360,1130 460,1215 Q560,1300 620,1409 L763,1409 Z"/><text x="22.30" font-size="20.05">3</text></g>
<line x1="473.8" y1="1141.3" x2="549.5" y2="1202.0" stroke="#111" stroke-width="0.95" />
<polygon points="549.5,1202.0 539.2,1199.6 545.0,1192.5" fill="#000"/>
<polygon points="473.8,1141.3 484.1,1143.7 478.3,1150.8" fill="#000"/>
<text transform="translate(474.92,1182.40) scale(0.9228,1)" font-size="19.48" fill="#000">327</text>
<line x1="306.0" y1="1100.2" x2="403.6" y2="1179.8" stroke="#111" stroke-width="0.95" />
<polygon points="403.6,1179.8 393.3,1177.4 399.1,1170.2" fill="#000"/>
<polygon points="306.0,1100.2 316.3,1102.6 310.5,1109.8" fill="#000"/>
<g transform="translate(310.25,1145.30) scale(0.9594,1)" fill="#000"><text x="0.00" font-size="19.48">5</text><path transform="translate(10.83,0) scale(0.00951,-0.00951)" d="M763,0 L583,0 L583,1100 Q520,1040 420,985 Q320,930 223,900 L223,1070 Q360,1130 460,1215 Q560,1300 620,1409 L763,1409 Z"/><text x="21.66" font-size="19.48">0</text></g>
<line x1="435.4" y1="1182.0" x2="435.4" y2="1322.4" stroke="#111" stroke-width="0.95" />
<polygon points="435.4,1322.4 430.8,1312.9 440.0,1312.9" fill="#000"/>
<polygon points="435.4,1182.0 440.0,1191.5 430.8,1191.5" fill="#000"/>
<text transform="translate(402.70,1234.00) scale(0.9781,1)" font-size="18.76" fill="#000">340</text>
<line x1="328.6" y1="1238.2" x2="433.1" y2="1322.4" stroke="#111" stroke-width="0.95" />
<polygon points="433.1,1322.4 422.8,1320.0 428.6,1312.9" fill="#000"/>
<polygon points="328.6,1238.2 338.9,1240.6 333.1,1247.7" fill="#000"/>
<text transform="translate(337.74,1288.20) scale(1.0304,1)" font-size="18.47" fill="#000">535</text>
<polygon points="449.8,1057.5 452.5,1055.5 470.5,1066.7 469.8,1076.3 449.6,1063.5" fill="#111" stroke="#000" stroke-width="0.8" stroke-linejoin="miter" />
<ellipse cx="460.4" cy="1057.7" rx="4.0" ry="3.9" fill="#111"/>
<line x1="452.0" y1="1058.3" x2="468.0" y2="1068.7" stroke="#fff" stroke-width="1.2999999999999994" />
<line x1="457.6" y1="1066.5" x2="466.6" y2="1072.5" stroke="#ddd" stroke-width="0.9999999999999994" />
<polygon points="468.4,1070.8 476.9,1070.5 476.9,1074.8 468.4,1075.1" fill="#ddd" stroke="#000" stroke-width="0.9" stroke-linejoin="miter" />
<polygon points="477.4,1064.1 485.2,1067.4 485.6,1088.3 477.9,1085.9" fill="#fff" stroke="#000" stroke-width="1.7" stroke-linejoin="miter" />
<circle cx="480.8" cy="1068.1" r="1.9" fill="#111"/>
<circle cx="481.4" cy="1077.0" r="1.9" fill="#111"/>
<circle cx="481.8" cy="1083.7" r="1.9" fill="#111"/>
<polygon points="448.2,1274.0 451.0,1271.9 469.5,1283.4 468.8,1293.3 448.0,1280.1" fill="#111" stroke="#000" stroke-width="0.8" stroke-linejoin="miter" />
<ellipse cx="459.1" cy="1274.2" rx="4.1" ry="4.0" fill="#111"/>
<line x1="450.5" y1="1274.8" x2="467.0" y2="1285.5" stroke="#fff" stroke-width="1.33983286908078" />
<line x1="456.2" y1="1283.2" x2="465.5" y2="1289.4" stroke="#ddd" stroke-width="1.0306406685236769" />
<polygon points="467.4,1287.7 476.1,1287.4 476.1,1291.8 467.4,1292.1" fill="#ddd" stroke="#000" stroke-width="0.9" stroke-linejoin="miter" />
<polygon points="476.7,1280.8 484.7,1284.2 485.1,1305.7 477.2,1303.2" fill="#fff" stroke="#000" stroke-width="1.7" stroke-linejoin="miter" />
<circle cx="480.2" cy="1284.9" r="2.0" fill="#111"/>
<circle cx="480.8" cy="1294.1" r="2.0" fill="#111"/>
<circle cx="481.2" cy="1301.0" r="2.0" fill="#111"/>
<path d="M262.29,1132.10 L290.31,1132.10 L297.75,1172.21 L254.85,1172.21 Z" fill="#000"/>
<path d="M267.85,1125.79 a8.45,8.62 0 1,0 16.90,0 a8.45,8.62 0 1,0 -16.90,0 Z M271.84,1126.65 a4.46,5.04 0 1,0 8.92,0 a4.46,5.04 0 1,0 -8.92,0 Z" fill="#000" fill-rule="evenodd"/>
<text transform="translate(260.13,1149.90) scale(1.0200,1)" font-size="16.17" fill="#fff">Max</text>
<text transform="translate(263.20,1168.26) scale(1.0200,1)" font-size="16.17" fill="#fff">5kg</text>
<path d="M276.76,1275.90 L310.84,1275.90 L319.90,1324.71 L267.70,1324.71 Z" fill="#000"/>
<path d="M283.52,1268.23 a10.28,10.49 0 1,0 20.57,0 a10.28,10.49 0 1,0 -20.57,0 Z M288.37,1269.27 a5.43,6.13 0 1,0 10.86,0 a5.43,6.13 0 1,0 -10.86,0 Z" fill="#000" fill-rule="evenodd"/>
<text transform="translate(274.12,1297.56) scale(1.0200,1)" font-size="19.68" fill="#fff">Max</text>
<g transform="translate(271.59,1319.90) scale(1.0200,1)" fill="#fff"><path transform="translate(0.00,0) scale(0.00961,-0.00961)" d="M763,0 L583,0 L583,1100 Q520,1040 420,985 Q320,930 223,900 L223,1070 Q360,1130 460,1215 Q560,1300 620,1409 L763,1409 Z"/><text x="10.94" font-size="19.68">0kg</text></g>
<circle cx="96.5" cy="1008.3" r="1.0" fill="#000"/>
<circle cx="187.7" cy="1083.0" r="1.0" fill="#000"/>
<circle cx="346.8" cy="957.0" r="1.0" fill="#000"/>
<circle cx="438.5" cy="1031.4" r="1.0" fill="#000"/>
<circle cx="382.3" cy="1093.3" r="1.0" fill="#000"/>
<circle cx="464.5" cy="1160.2" r="1.0" fill="#000"/>
<circle cx="464.5" cy="1187.1" r="1.0" fill="#000"/>
<circle cx="492.5" cy="1080.0" r="1.0" fill="#000"/>
<circle cx="530.0" cy="1110.0" r="1.0" fill="#000"/>
<circle cx="492.0" cy="1310.0" r="1.0" fill="#000"/>
<circle cx="530.0" cy="1341.3" r="1.0" fill="#000"/>
<ellipse cx="79.2" cy="1314.4" rx="1.2" ry="1.8" fill="#000"/>
<ellipse cx="142.4" cy="1365.7" rx="1.2" ry="1.8" fill="#000"/>
<line x1="647.4" y1="940.8" x2="867.8" y2="895.0" stroke="#111" stroke-width="0.95" />
<polygon points="867.8,895.0 859.4,901.4 857.6,892.4" fill="#000"/>
<polygon points="647.4,940.8 655.8,934.4 657.6,943.4" fill="#000"/>
<text transform="translate(700.08,918.50) scale(1.0754,1)" font-size="25.06" fill="#000">400</text>
<line x1="645.0" y1="939.5" x2="662.3" y2="953.9" stroke="#222" stroke-width="1.0" stroke-dasharray="2.2,2"/>
<line x1="867.8" y1="895.0" x2="880.2" y2="909.8" stroke="#222" stroke-width="1.0" stroke-dasharray="2.2,2"/>
<line x1="885.0" y1="908.6" x2="910.3" y2="904.4" stroke="#222" stroke-width="1.0" stroke-dasharray="2.2,2"/>
<line x1="910.3" y1="904.4" x2="1063.7" y2="1027.8" stroke="#111" stroke-width="0.95" />
<polygon points="1063.7,1027.8 1053.4,1025.4 1059.2,1018.3" fill="#000"/>
<polygon points="910.3,904.4 920.6,906.8 914.8,913.9" fill="#000"/>
<text transform="translate(977.04,959.50) scale(0.9487,1)" font-size="27.91" fill="#000">555</text>
<line x1="1039.7" y1="1035.5" x2="1061.3" y2="1031.4" stroke="#222" stroke-width="1.0" stroke-dasharray="2.2,2"/>
<line x1="1061.3" y1="1031.4" x2="1061.3" y2="1525.4" stroke="#111" stroke-width="0.95" />
<polygon points="1061.3,1525.4 1056.7,1515.9 1065.9,1515.9" fill="#000"/>
<polygon points="1061.3,1031.4 1065.9,1040.9 1056.7,1040.9" fill="#000"/>
<text transform="translate(1068.55,1355.00) scale(1.0249,1)" font-size="25.78" fill="#000">870</text>
<line x1="1039.4" y1="1532.8" x2="1061.1" y2="1527.0" stroke="#222" stroke-width="1.0" stroke-dasharray="2.2,2"/>
<line x1="661.8" y1="953.9" x2="661.8" y2="1449.5" stroke="#000" stroke-width="1.3" />
<line x1="661.8" y1="953.9" x2="817.0" y2="1079.4" stroke="#000" stroke-width="1.3" />
<line x1="671.0" y1="953.1" x2="825.7" y2="1078.0" stroke="#000" stroke-width="1.3" />
<line x1="661.8" y1="953.9" x2="671.0" y2="953.1" stroke="#000" stroke-width="1.3" />
<line x1="817.0" y1="1079.4" x2="825.7" y2="1078.0" stroke="#000" stroke-width="1.3" />
<line x1="817.0" y1="1079.4" x2="817.0" y2="1576.2" stroke="#000" stroke-width="1.3" />
<line x1="825.8" y1="1078.0" x2="825.8" y2="1574.5" stroke="#000" stroke-width="1.3" />
<line x1="661.8" y1="1449.5" x2="817.0" y2="1576.2" stroke="#000" stroke-width="1.3" />
<line x1="817.0" y1="1576.2" x2="825.8" y2="1574.5" stroke="#000" stroke-width="1.3" />
<line x1="671.0" y1="955.6" x2="883.9" y2="913.5" stroke="#000" stroke-width="1.3" />
<line x1="700.7" y1="973.0" x2="901.2" y2="934.6" stroke="#000" stroke-width="1.3" />
<line x1="709.3" y1="981.6" x2="901.2" y2="940.8" stroke="#000" stroke-width="1.3" />
<line x1="901.2" y1="934.6" x2="901.2" y2="940.8" stroke="#000" stroke-width="1.3" />
<line x1="884.0" y1="908.7" x2="1039.7" y2="1035.5" stroke="#000" stroke-width="1.3" />
<line x1="876.8" y1="910.4" x2="1031.3" y2="1036.7" stroke="#000" stroke-width="1.3" />
<line x1="876.8" y1="910.4" x2="884.0" y2="908.7" stroke="#000" stroke-width="1.3" />
<line x1="1031.3" y1="1036.7" x2="1039.7" y2="1035.5" stroke="#000" stroke-width="1.3" />
<line x1="1031.3" y1="1036.7" x2="1031.3" y2="1534.0" stroke="#000" stroke-width="1.3" />
<line x1="1039.7" y1="1035.5" x2="1039.7" y2="1532.8" stroke="#000" stroke-width="1.3" />
<line x1="1031.3" y1="1534.0" x2="1039.7" y2="1532.8" stroke="#000" stroke-width="1.3" />
<line x1="881.5" y1="946.0" x2="881.5" y2="1317.5" stroke="#000" stroke-width="0.95" />
<line x1="881.5" y1="1317.5" x2="1031.0" y2="1438.5" stroke="#000" stroke-width="0.95" />
<polygon points="898.5,1014.6 1014.6,1108.7 1014.6,1115.4 898.5,1021.2" fill="#f4f4f4" stroke="#000" stroke-width="1.0" stroke-linejoin="miter" />
<line x1="899.5" y1="1017.8" x2="1014.5" y2="1112.0" stroke="#000" stroke-width="0.6" />
<polygon points="953.6,1033.8 1029.2,1093.5 1029.2,1114.1 1014.6,1116.7 1014.6,1108.7 953.6,1059.2" fill="#fff" stroke="#000" stroke-width="1.0" stroke-linejoin="miter" />
<line x1="953.6" y1="1033.8" x2="953.6" y2="1059.2" stroke="#000" stroke-width="1.0" />
<rect x="956.0" y="1039.6" width="2.6" height="2.2" fill="#111"/>
<rect x="959.5" y="1042.6" width="2.6" height="2.2" fill="#111"/>
<rect x="963.5" y="1046.6" width="2.6" height="2.2" fill="#111"/>
<rect x="966.5" y="1050.1" width="2.6" height="2.2" fill="#111"/>
<rect x="956.5" y="1045.1" width="2.6" height="2.2" fill="#111"/>
<rect x="960.5" y="1048.6" width="2.6" height="2.2" fill="#111"/>
<rect x="964.5" y="1052.6" width="2.6" height="2.2" fill="#111"/>
<rect x="968.0" y="1055.6" width="2.6" height="2.2" fill="#111"/>
<rect x="1008.5" y="1082.6" width="2.6" height="2.2" fill="#111"/>
<rect x="1012.0" y="1086.1" width="2.6" height="2.2" fill="#111"/>
<rect x="1015.5" y="1089.6" width="2.6" height="2.2" fill="#111"/>
<rect x="1019.0" y="1093.1" width="2.6" height="2.2" fill="#111"/>
<rect x="1009.5" y="1088.6" width="2.6" height="2.2" fill="#111"/>
<rect x="1013.0" y="1092.1" width="2.6" height="2.2" fill="#111"/>
<rect x="1016.5" y="1095.6" width="2.6" height="2.2" fill="#111"/>
<rect x="1020.0" y="1099.1" width="2.6" height="2.2" fill="#111"/>
<polygon points="986.5,1089.6 1014.5,1112.1 1011.5,1116.6 984.5,1094.6" fill="#ddd" stroke="#000" stroke-width="0.9" stroke-linejoin="miter" />
<circle cx="991.5" cy="1089.1" r="1.8" fill="#fff" stroke="#000" stroke-width="0.8"/>
<polyline points="901.5,1013.6 901.5,1010.1 905.5,1010.1 906.5,1011.6" fill="none" stroke="#000" stroke-width="0.9" stroke-linejoin="miter" />
<polygon points="898.5,1169.3 1014.6,1263.4 1014.6,1270.1 898.5,1175.9" fill="#f4f4f4" stroke="#000" stroke-width="1.0" stroke-linejoin="miter" />
<line x1="899.5" y1="1172.5" x2="1014.5" y2="1266.7" stroke="#000" stroke-width="0.6" />
<polygon points="953.6,1188.5 1029.2,1248.2 1029.2,1268.8 1014.6,1271.4 1014.6,1263.4 953.6,1213.9" fill="#fff" stroke="#000" stroke-width="1.0" stroke-linejoin="miter" />
<line x1="953.6" y1="1188.5" x2="953.6" y2="1213.9" stroke="#000" stroke-width="1.0" />
<rect x="956.0" y="1194.3" width="2.6" height="2.2" fill="#111"/>
<rect x="959.5" y="1197.3" width="2.6" height="2.2" fill="#111"/>
<rect x="963.5" y="1201.3" width="2.6" height="2.2" fill="#111"/>
<rect x="966.5" y="1204.8" width="2.6" height="2.2" fill="#111"/>
<rect x="956.5" y="1199.8" width="2.6" height="2.2" fill="#111"/>
<rect x="960.5" y="1203.3" width="2.6" height="2.2" fill="#111"/>
<rect x="964.5" y="1207.3" width="2.6" height="2.2" fill="#111"/>
<rect x="968.0" y="1210.3" width="2.6" height="2.2" fill="#111"/>
<rect x="1008.5" y="1237.3" width="2.6" height="2.2" fill="#111"/>
<rect x="1012.0" y="1240.8" width="2.6" height="2.2" fill="#111"/>
<rect x="1015.5" y="1244.3" width="2.6" height="2.2" fill="#111"/>
<rect x="1019.0" y="1247.8" width="2.6" height="2.2" fill="#111"/>
<rect x="1009.5" y="1243.3" width="2.6" height="2.2" fill="#111"/>
<rect x="1013.0" y="1246.8" width="2.6" height="2.2" fill="#111"/>
<rect x="1016.5" y="1250.3" width="2.6" height="2.2" fill="#111"/>
<rect x="1020.0" y="1253.8" width="2.6" height="2.2" fill="#111"/>
<polygon points="986.5,1244.3 1014.5,1266.8 1011.5,1271.3 984.5,1249.3" fill="#ddd" stroke="#000" stroke-width="0.9" stroke-linejoin="miter" />
<circle cx="991.5" cy="1243.8" r="1.8" fill="#fff" stroke="#000" stroke-width="0.8"/>
<polyline points="901.5,1168.3 901.5,1164.8 905.5,1164.8 906.5,1166.3" fill="none" stroke="#000" stroke-width="0.9" stroke-linejoin="miter" />
<polygon points="898.5,1333.3 1014.6,1427.4 1014.6,1434.1 898.5,1339.9" fill="#f4f4f4" stroke="#000" stroke-width="1.0" stroke-linejoin="miter" />
<line x1="899.5" y1="1336.5" x2="1014.5" y2="1430.7" stroke="#000" stroke-width="0.6" />
<polygon points="953.6,1352.5 1029.2,1412.2 1029.2,1432.8 1014.6,1435.4 1014.6,1427.4 953.6,1377.9" fill="#fff" stroke="#000" stroke-width="1.0" stroke-linejoin="miter" />
<line x1="953.6" y1="1352.5" x2="953.6" y2="1377.9" stroke="#000" stroke-width="1.0" />
<rect x="956.0" y="1358.3" width="2.6" height="2.2" fill="#111"/>
<rect x="959.5" y="1361.3" width="2.6" height="2.2" fill="#111"/>
<rect x="963.5" y="1365.3" width="2.6" height="2.2" fill="#111"/>
<rect x="966.5" y="1368.8" width="2.6" height="2.2" fill="#111"/>
<rect x="956.5" y="1363.8" width="2.6" height="2.2" fill="#111"/>
<rect x="960.5" y="1367.3" width="2.6" height="2.2" fill="#111"/>
<rect x="964.5" y="1371.3" width="2.6" height="2.2" fill="#111"/>
<rect x="968.0" y="1374.3" width="2.6" height="2.2" fill="#111"/>
<rect x="1008.5" y="1401.3" width="2.6" height="2.2" fill="#111"/>
<rect x="1012.0" y="1404.8" width="2.6" height="2.2" fill="#111"/>
<rect x="1015.5" y="1408.3" width="2.6" height="2.2" fill="#111"/>
<rect x="1019.0" y="1411.8" width="2.6" height="2.2" fill="#111"/>
<rect x="1009.5" y="1407.3" width="2.6" height="2.2" fill="#111"/>
<rect x="1013.0" y="1410.8" width="2.6" height="2.2" fill="#111"/>
<rect x="1016.5" y="1414.3" width="2.6" height="2.2" fill="#111"/>
<rect x="1020.0" y="1417.8" width="2.6" height="2.2" fill="#111"/>
<polygon points="986.5,1408.3 1014.5,1430.8 1011.5,1435.3 984.5,1413.3" fill="#ddd" stroke="#000" stroke-width="0.9" stroke-linejoin="miter" />
<circle cx="991.5" cy="1407.8" r="1.8" fill="#fff" stroke="#000" stroke-width="0.8"/>
<polyline points="901.5,1332.3 901.5,1328.8 905.5,1328.8 906.5,1330.3" fill="none" stroke="#000" stroke-width="0.9" stroke-linejoin="miter" />
<polygon points="808.4,1060.8 1008.6,1021.3 1031.3,1039.0 1031.3,1048.2 825.7,1088.0 825.7,1079.4" fill="#fff" stroke="#000" stroke-width="0" stroke-linejoin="miter" stroke="none"/>
<line x1="808.4" y1="1060.8" x2="1008.6" y2="1021.3" stroke="#000" stroke-width="1.3" />
<line x1="825.7" y1="1079.4" x2="1031.3" y2="1039.0" stroke="#000" stroke-width="1.3" />
<line x1="825.7" y1="1088.0" x2="1031.3" y2="1048.2" stroke="#000" stroke-width="1.3" />
<line x1="825.8" y1="1327.8" x2="881.5" y2="1317.1" stroke="#000" stroke-width="0.95" />
<line x1="825.8" y1="1479.0" x2="1030.7" y2="1440.0" stroke="#000" stroke-width="1.3" />
<line x1="825.8" y1="1489.4" x2="1030.7" y2="1449.5" stroke="#000" stroke-width="1.3" />
<line x1="825.8" y1="1573.2" x2="1030.7" y2="1534.0" stroke="#000" stroke-width="1.3" />
<polygon points="826.0,1132.7 841.5,1145.8 839.8,1150.8 826.0,1140.5" fill="#ddd" stroke="#000" stroke-width="1.0" stroke-linejoin="miter" />
<polyline points="839.8,1150.8 839.8,1152.9 826.0,1155.7" fill="none" stroke="#000" stroke-width="1.0" stroke-linejoin="miter" />
<polygon points="826.0,1287.5 841.5,1300.6 839.8,1305.6 826.0,1295.3" fill="#ddd" stroke="#000" stroke-width="1.0" stroke-linejoin="miter" />
<polyline points="839.8,1305.6 839.8,1307.7 826.0,1310.5" fill="none" stroke="#000" stroke-width="1.0" stroke-linejoin="miter" />
<polygon points="826.0,1449.5 841.5,1462.6 839.8,1467.6 826.0,1457.3" fill="#ddd" stroke="#000" stroke-width="1.0" stroke-linejoin="miter" />
<polyline points="839.8,1467.6 839.8,1469.7 826.0,1472.5" fill="none" stroke="#000" stroke-width="1.0" stroke-linejoin="miter" />
<path d="M874.74,1377.10 L908.36,1377.10 L917.30,1425.25 L865.80,1425.25 Z" fill="#000"/>
<path d="M881.40,1369.53 a10.15,10.35 0 1,0 20.29,0 a10.15,10.35 0 1,0 -20.29,0 Z M886.19,1370.56 a5.36,6.05 0 1,0 10.71,0 a5.36,6.05 0 1,0 -10.71,0 Z" fill="#000" fill-rule="evenodd"/>
<text transform="translate(872.14,1398.47) scale(1.0200,1)" font-size="19.42" fill="#fff">Max</text>
<g transform="translate(869.64,1420.51) scale(1.0200,1)" fill="#fff"><path transform="translate(0.00,0) scale(0.00948,-0.00948)" d="M763,0 L583,0 L583,1100 Q520,1040 420,985 Q320,930 223,900 L223,1070 Q360,1130 460,1215 Q560,1300 620,1409 L763,1409 Z"/><text x="10.80" font-size="19.42">0kg</text></g>
<ellipse cx="698.8" cy="1391.2" rx="1.3" ry="2.0" fill="none" stroke="#000" stroke-width="0.8"/>
<ellipse cx="788.5" cy="1463.4" rx="1.3" ry="2.0" fill="none" stroke="#000" stroke-width="0.8"/>
<rect x="671.1" y="1459.3" width="3" height="2.5" fill="#555"/>
<rect x="806.9" y="1570.0" width="3" height="2.5" fill="#555"/>
</svg></body></html>
